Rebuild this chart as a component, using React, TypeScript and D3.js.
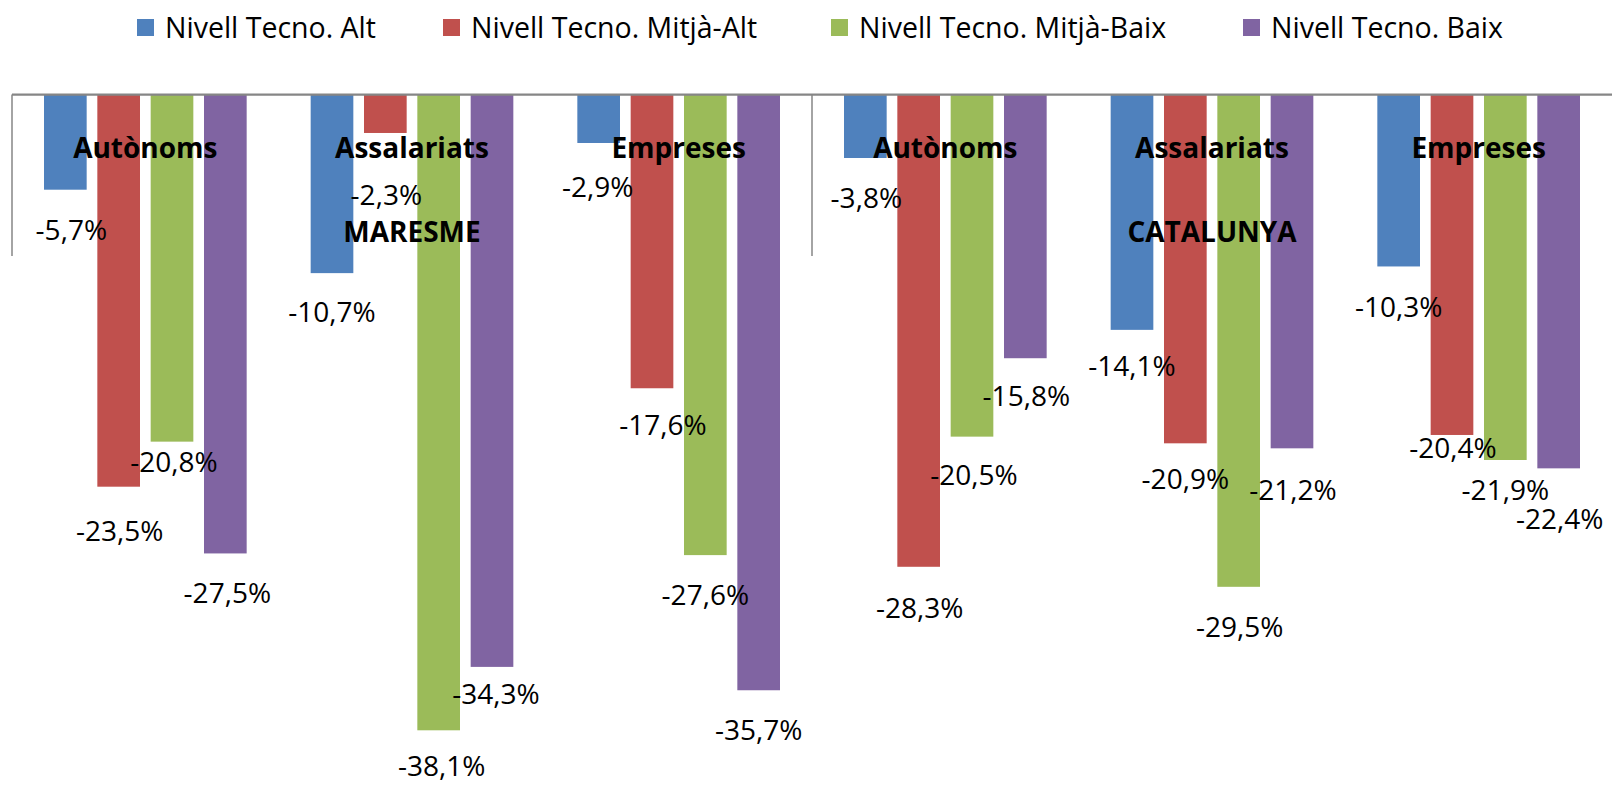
import React from 'react';
import * as d3 from 'd3';

const regions = ['MARESME', 'CATALUNYA'];
const categories = ['Autònoms', 'Assalariats', 'Empreses'];
const seriesNames = [
  'Nivell Tecno. Alt',
  'Nivell Tecno. Mitjà-Alt',
  'Nivell Tecno. Mitjà-Baix',
  'Nivell Tecno. Baix',
];
const seriesColors = ['#4F81BD', '#C0504D', '#9BBB59', '#8064A2'];
// values per group: MARESME (Autònoms, Assalariats, Empreses), CATALUNYA (Autònoms, Assalariats, Empreses)
const altValues = [-5.7, -10.7, -2.9, -3.8, -14.1, -10.3];
const mitjaAltValues = [-23.5, -2.3, -17.6, -28.3, -20.9, -20.4];
const mitjaBaixValues = [-20.8, -38.1, -27.6, -20.5, -29.5, -21.9];
const baixValues = [-27.5, -34.3, -35.7, -15.8, -21.2, -22.4];
const seriesValues = [altValues, mitjaAltValues, mitjaBaixValues, baixValues];
const yDomain = [-40, 0];

// layout: manual label nudges [dx, dy] per series per group (as in the original)
const labelNudge = [
  [[6, 0], [0, -1], [-1, 4], [1, 0], [0, -4], [0, 1]],
  [[1, 5], [1, 22], [11, -3], [1, 1], [0, -4], [1, -27]],
  [[2, -19], [3, -4], [0, 0], [2, -1], [1, 0], [0, -10]],
  [[2, 0], [4, -13], [0, 0], [1, -2], [1, 2], [1, 11]],
];
const legendX = [137, 443, 831, 1243];

const W = 1612;
const H = 785;
const FONT = "'Open Sans', 'Liberation Sans', sans-serif";

const locale = d3.formatLocale({
  decimal: ',',
  thousands: '.',
  grouping: [3],
  currency: ['', '€'],
  minus: '-',
});
const fmt = locale.format('.1f');

export default function App() {
  const groupKeys: string[] = [];
  regions.forEach((r) => categories.forEach((c) => groupKeys.push(r + '|' + c)));

  const plotLeft = 12;
  const plotRight = 1612;
  const axisY = 94.6;
  const plotBottom = 762;

  const x0 = d3.scaleBand<string>().domain(groupKeys).range([plotLeft, plotRight]);
  const x1 = d3
    .scaleBand<string>()
    .domain(seriesNames)
    .range([32, x0.bandwidth() - 32])
    .paddingInner(0.2);
  const y = d3.scaleLinear().domain(yDomain).range([plotBottom, axisY]);
  const xr = d3.scaleBand<string>().domain(regions).range([plotLeft, plotRight]);

  const tickBottom = 256;

  return (
    <svg
      width={W}
      height={H}
      style={{ position: 'absolute', left: 0, top: 0, background: '#fff' }}
      fontFamily={FONT}
    >
      <rect x={0} y={0} width={W} height={H} fill="#fff" />
      {/* legend */}
      {seriesNames.map((s, i) => (
        <g key={s}>
          <rect x={legendX[i]} y={19} width={17} height={17} fill={seriesColors[i]} />
          <text x={legendX[i] + 28} y={38} fontSize={28.5} fill="#000">
            {s}
          </text>
        </g>
      ))}
      {/* bars */}
      {seriesNames.map((s, si) =>
        groupKeys.map((k, gi) => {
          const v = seriesValues[si][gi];
          const bx = (x0(k) as number) + (x1(s) as number);
          return (
            <rect
              key={s + k}
              x={bx}
              y={y(0)}
              width={x1.bandwidth()}
              height={y(v) - y(0)}
              fill={seriesColors[si]}
            />
          );
        })
      )}
      {/* axis line and tick dividers */}
      <line x1={plotLeft} x2={plotRight} y1={axisY} y2={axisY} stroke="#868686" strokeWidth={2.2} />
      {regions.map((r) => (
        <line
          key={r}
          x1={xr(r) as number}
          x2={xr(r) as number}
          y1={axisY}
          y2={tickBottom}
          stroke="#868686"
          strokeWidth={1.5}
        />
      ))}
      {/* category labels */}
      {groupKeys.map((k) => (
        <text
          key={'c' + k}
          x={(x0(k) as number) + x0.bandwidth() / 2}
          y={158}
          fontSize={28}
          fontWeight="bold"
          textAnchor="middle"
          fill="#000"
        >
          {k.split('|')[1]}
        </text>
      ))}
      {regions.map((r) => (
        <text
          key={'r' + r}
          x={(xr(r) as number) + xr.bandwidth() / 2}
          y={242}
          fontSize={28}
          fontWeight="bold"
          textAnchor="middle"
          fill="#000"
        >
          {r}
        </text>
      ))}
      {/* data labels */}
      {seriesNames.map((s, si) =>
        groupKeys.map((k, gi) => {
          const v = seriesValues[si][gi];
          const cx = (x0(k) as number) + (x1(s) as number) + x1.bandwidth() / 2 + labelNudge[si][gi][0];
          const cy = y(v) + 40 + labelNudge[si][gi][1];
          return (
            <text
              key={'l' + s + k}
              x={cx}
              y={cy}
              dy="0.35em"
              fontSize={28}
              textAnchor="middle"
              fill="#000"
            >
              {fmt(v) + '%'}
            </text>
          );
        })
      )}
    </svg>
  );
}
